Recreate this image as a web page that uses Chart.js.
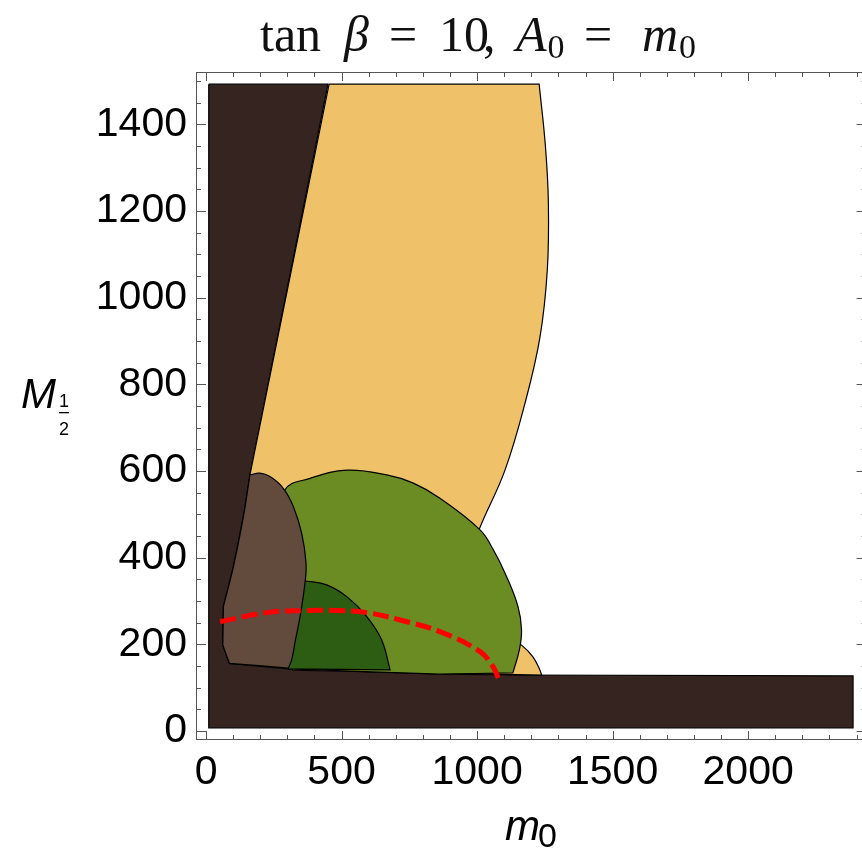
<!DOCTYPE html>
<html>
<head>
<meta charset="utf-8">
<script src="https://cdn.jsdelivr.net/npm/chart.js@4.4.0/dist/chart.umd.min.js"></script>
<style>
  html, body { margin: 0; padding: 0; background: #fff; }
</style>
</head>
<body>
<canvas id="myChart" width="862" height="850"></canvas>
<script>
// plot ranges (m0 along x, M1/2 along y); the frame's right side sits just off the picture
const xRange = [-37, 2420];
const xFrameMax = 2437;
const yRange = [-21, 1521];
const xTickValues = [0, 500, 1000, 1500, 2000];
const yTickValues = [0, 200, 400, 600, 800, 1000, 1200, 1400];

// region boundaries, [m0, M1/2]; a repeated point is a sharp corner
const excludedBand = [[10, 1493], [450, 1493], [162, 591], [138, 495], [101, 379], [64, 287],
    [62, 198], [86, 156], [304, 143], [863, 131], [1132, 129], [2387, 127], [2387, 7], [10, 7]];
const tanBand = [[454, 1493], [454, 1493], [1229, 1493], [1229, 1493], [1252, 1350], [1263, 1219],
    [1259, 1064], [1232, 909], [1177, 757], [1103, 602], [1007, 464], [975, 400], [1000, 300],
    [1100, 225], [1164, 198], [1206, 171], [1232, 140], [1238, 129], [1238, 129], [320, 140],
    [320, 140], [200, 300], [162, 591], [162, 591]];
const oliveBlob = [[304, 143], [304, 143], [280, 250], [270, 450], [291, 556], [384, 583],
    [519, 602], [667, 591], [765, 572], [863, 537], [1011, 464], [1060, 418], [1109, 356],
    [1151, 287], [1164, 233], [1156, 187], [1132, 134], [1132, 134], [863, 131], [863, 131],
    [304, 143]];
const greenBlob = [[304, 143], [304, 143], [290, 300], [340, 348], [369, 346], [445, 337],
    [519, 310], [593, 264], [648, 210], [679, 141], [679, 141], [304, 143]];
const brownBlob = [[304, 145], [304, 145], [86, 156], [86, 156], [62, 198], [62, 198], [64, 287],
    [64, 287], [101, 379], [138, 495], [162, 591], [162, 591], [199, 595], [236, 587], [285, 560],
    [322, 518], [353, 456], [369, 387], [365, 341], [347, 264], [330, 210], [316, 164], [304, 145]];
const redCurve = [[52, 252], [224, 273], [371, 278], [470, 278], [593, 273], [716, 256],
    [863, 229], [1011, 183], [1059, 148], [1078, 122]];

function toXY(arr, close) {
    const pts = arr.map(p => ({ x: p[0], y: p[1] }));
    if (close) pts.push({ x: arr[0][0], y: arr[0][1] });
    return pts;
}

function region(label, arr, color, order, tension) {
    return {
        label: label,
        data: toXY(arr, true),
        backgroundColor: color,
        borderColor: "#000",
        borderWidth: 1.2,
        fill: "shape",
        tension: tension,
        pointRadius: 0,
        order: order,
    };
}

const framePlugin = {
    id: "frame",
    afterDraw(chart) {
        const { ctx, chartArea: a, scales } = chart;
        const sx = scales.x, sy = scales.y;
        const right = sx.getPixelForValue(xFrameMax);
        ctx.save();
        ctx.strokeStyle = "#555";
        ctx.lineWidth = 1;
        ctx.strokeRect(a.left + 0.5, a.top + 0.5, right - a.left - 1, a.bottom - a.top - 1);
        ctx.beginPath();
        for (let v = 0; v <= 2400; v += 100) {
            const px = Math.round(sx.getPixelForValue(v)) + 0.5;
            const len = v % 500 === 0 ? 9 : 5;
            ctx.moveTo(px, a.bottom); ctx.lineTo(px, a.bottom - len);
            ctx.moveTo(px, a.top); ctx.lineTo(px, a.top + len);
        }
        for (let v = 0; v <= 1500; v += 50) {
            const py = Math.round(sy.getPixelForValue(v)) + 0.5;
            const len = v % 200 === 0 ? 10 : 5;
            ctx.moveTo(a.left, py); ctx.lineTo(a.left + len, py);
            ctx.moveTo(right, py); ctx.lineTo(right - len, py);
        }
        ctx.stroke();

        // title; a null position means "right after the previous piece"
        const serif = "'Liberation Serif', 'DejaVu Serif', serif";
        const parts = [
            ["tan", "", 50, 260, 0], ["β", "italic ", 50, 344, 0], ["=", "", 50, 389, 0],
            ["10", "", 50, 439, 0], [",", "", 50, 483, 0], ["A", "italic ", 50, 516, 0],
            ["0", "", 34, null, 7], ["=", "", 50, 584, 0], ["m", "italic ", 50, 642, 0],
            ["0", "", 34, null, 7],
        ];
        ctx.fillStyle = "#111";
        ctx.textBaseline = "alphabetic";
        ctx.textAlign = "left";
        let tx = 0;
        parts.forEach(p => {
            ctx.font = p[1] + p[2] + "px " + serif;
            const px = p[3] === null ? tx + 1 : p[3];
            ctx.fillText(p[0], px, 51 + p[4]);
            tx = px + ctx.measureText(p[0]).width;
        });

        // axis titles
        const sans = "'Liberation Sans', Arial, sans-serif";
        ctx.fillStyle = "#000";
        ctx.font = "italic 42px " + sans;
        ctx.fillText("m", 505, 840);
        ctx.font = "34px " + sans;
        ctx.fillText("0", 538, 847);

        ctx.font = "italic 42px " + sans;
        ctx.fillText("M", 21, 408);
        ctx.font = "18px " + sans;
        ctx.textAlign = "center";
        ctx.fillText("1", 64, 407);
        ctx.fillText("2", 64, 435);
        ctx.fillRect(59, 412, 10, 1.3);
        ctx.restore();
    },
};

const tickFont = { family: "'Liberation Sans', Arial, sans-serif", size: 41 };

const ctx = document.getElementById("myChart").getContext("2d");
const myChart = new Chart(ctx, {
    type: "line",
    data: {
        datasets: [
            region("excluded", excludedBand, "#362420", 6, 0),
            region("tan", tanBand, "#efc26a", 5, 0.4),
            region("olive", oliveBlob, "#6b8b23", 4, 0.4),
            region("green", greenBlob, "#2d5d13", 3, 0.4),
            region("brown", brownBlob, "#624a3c", 2, 0.4),
            {
                label: "limit",
                data: toXY(redCurve, false),
                borderColor: "#ff0000",
                borderWidth: 5,
                borderDash: [16, 6],
                tension: 0.4,
                fill: false,
                pointRadius: 0,
                order: 0,
            },
        ],
    },
    options: {
        responsive: false,
        animation: false,
        devicePixelRatio: 1,
        layout: { padding: { left: 0, right: 0, top: 72, bottom: 0 } },
        plugins: { legend: { display: false }, tooltip: { enabled: false }, title: { display: false } },
        scales: {
            x: {
                type: "linear",
                min: xRange[0],
                max: xRange[1],
                afterBuildTicks: s => { s.ticks = xTickValues.map(v => ({ value: v })); },
                afterFit: s => { s.height = 110; },
                ticks: {
                    font: tickFont,
                    color: "#000",
                    padding: 8,
                    maxRotation: 0,
                    autoSkip: false,
                    callback: v => String(v),
                },
                grid: { display: false, drawTicks: false },
                border: { display: false },
            },
            y: {
                type: "linear",
                min: yRange[0],
                max: yRange[1],
                afterBuildTicks: s => { s.ticks = yTickValues.map(v => ({ value: v })); },
                afterFit: s => { s.width = 196; },
                ticks: {
                    font: tickFont,
                    color: "#000",
                    padding: 9,
                    autoSkip: false,
                    callback: v => String(v),
                },
                grid: { display: false, drawTicks: false },
                border: { display: false },
            },
        },
    },
    plugins: [framePlugin],
});
</script>
</body>
</html>
